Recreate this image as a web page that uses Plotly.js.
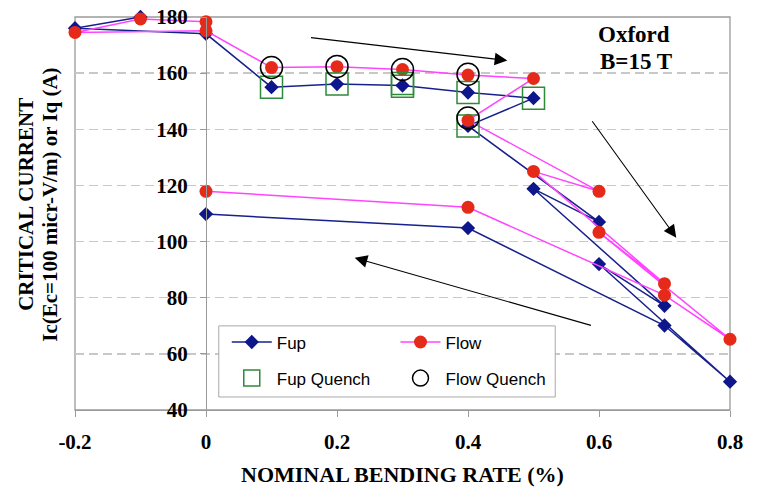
<!DOCTYPE html>
<html><head><meta charset="utf-8">
<script src="https://cdn.plot.ly/plotly-3.0.1.min.js"></script>
<style>html,body{margin:0;padding:0;background:#fff}</style>
</head><body><div id="chart" style="width:761px;height:498px"></div>
<script>
// ---- data ----
const fupX  = [-0.1, -0.2, 0, 0.1, 0.2, 0.3, 0.4, 0.5, 0.4, 0.6, 0.5, 0.7, 0.6, 0.8, 0.7, 0.4, 0];
const fupY  = [180, 176, 174, 155, 156.1, 155.6, 153.1, 151.1, 141.2, 107, 118.8, 77.1, 92, 50.1, 70.1, 104.8, 109.8];
const flowX = [0, -0.1, -0.2, 0, 0.1, 0.2, 0.3, 0.4, 0.5, 0.4, 0.6, 0.5, 0.7, 0.6, 0.8, 0.7, 0.4, 0];
const flowY = [178.3, 179.3, 174.5, 175.1, 162, 162.3, 161.3, 159.3, 158.1, 143.2, 117.9, 125, 85, 103.3, 65.2, 80.9, 112.2, 117.9];
const fupQX  = [0.1, 0.2, 0.3, 0.3, 0.4, 0.5, 0.4];
const fupQY  = [155, 156.1, 156.3, 155.3, 153.1, 151.1, 141.2];
const flowQX = [0.1, 0.2, 0.3, 0.4, 0.4];
const flowQY = [162, 162.4, 161.3, 159.6, 144];
const xTicks = [-0.2, 0, 0.2, 0.4, 0.6, 0.8];
const xTickText = ['-0.2', '0', '0.2', '0.4', '0.6', '0.8'];
const yTicks = [40, 60, 80, 100, 120, 140, 160, 180];
const seriesNames = ['Fup', 'Flow', 'Fup Quench', 'Flow Quench'];

const serif = 'Liberation Serif, Times New Roman, serif';
const sans = 'Liberation Sans, Arial, sans-serif';

const traces = [
  {x: fupX, y: fupY, name: seriesNames[0], mode: 'lines+markers', legend: 'legend', legendgroup: 'a', cliponaxis: false,
   line: {color: '#17208c', width: 1.5}, marker: {symbol: 'diamond', size: 11, color: '#0d168a'}},
  {x: flowX, y: flowY, name: seriesNames[1], mode: 'lines+markers', legend: 'legend2', legendgroup: 'b', cliponaxis: false,
   line: {color: '#ff45ff', width: 1.5}, marker: {symbol: 'circle', size: 13, color: '#e62a1a'}},
  {x: fupQX, y: fupQY, name: seriesNames[2], mode: 'markers', legend: 'legend', legendgroup: 'c', cliponaxis: false,
   marker: {symbol: 'square-open', size: 22, color: '#2e8b3a', line: {width: 1.5}}},
  {x: flowQX, y: flowQY, name: seriesNames[3], mode: 'markers', legend: 'legend2', legendgroup: 'd', cliponaxis: false,
   marker: {symbol: 'circle-open', size: 22, color: '#000000', line: {width: 1.5}}}
];

const tickFont = {family: serif, size: 21, weight: 'bold', color: '#000'};
const legendFont = {family: sans, size: 17, color: '#000'};

const layout = {
  width: 761, height: 498,
  margin: {l: 75, r: 31, t: 17, b: 88},
  paper_bgcolor: '#fff', plot_bgcolor: '#fff',
  showlegend: true,
  xaxis: {
    range: [-0.2, 0.8], tickvals: xTicks, ticktext: xTickText,
    ticks: 'outside', ticklen: 6, tickcolor: '#9a9a9a', tickwidth: 1,
    showgrid: false, zeroline: false, showline: true, linecolor: '#9a9a9a', linewidth: 1.3,
    tickfont: tickFont, ticklabelstandoff: 6, automargin: false,
    title: {text: 'NOMINAL BENDING RATE (%)', font: {family: serif, size: 22, weight: 'bold', color: '#000'}, standoff: 14}
  },
  yaxis: {
    range: [40, 180], tickvals: yTicks, anchor: 'free', position: 0.2,
    ticks: 'outside', ticklen: 6, tickcolor: '#9a9a9a',
    showline: true, linecolor: '#9a9a9a', linewidth: 1.3,
    showgrid: true, gridcolor: '#c8c8c8', gridwidth: 1.3, griddash: '9px,5px',
    zeroline: false, tickfont: tickFont, ticklabelstandoff: 8, automargin: false
  },
  legend: {x: 0.2317, xanchor: 'left', y: 0.2177, yanchor: 'top', bgcolor: 'rgba(0,0,0,0)',
           borderwidth: 0, font: legendFont, itemwidth: 40, tracegroupgap: 11, orientation: 'v'},
  legend2: {x: 0.4893, xanchor: 'left', y: 0.2177, yanchor: 'top', bgcolor: 'rgba(0,0,0,0)',
           borderwidth: 0, font: legendFont, itemwidth: 40, tracegroupgap: 11, orientation: 'v'},
  shapes: [
    {type: 'rect', xref: 'paper', yref: 'paper', x0: 0, x1: 1, y0: 0, y1: 1,
     line: {color: '#9a9a9a', width: 1.3}, layer: 'below'},
    {type: 'rect', xref: 'paper', yref: 'paper', x0: 0.2195, x1: 0.7332, y0: 0.0331, y1: 0.214,
     line: {color: '#a8a8a8', width: 1}, fillcolor: '#ffffff', layer: 'above'}
  ],
  annotations: [
    {text: 'CRITICAL CURRENT', textangle: -90, xref: 'paper', yref: 'paper', x: -0.0747, y: 0.5223,
     xanchor: 'center', yanchor: 'middle', showarrow: false, font: {family: serif, size: 21, weight: 'bold', color: '#000'}},
    {text: 'Ic(Ec=100 micr-V/m) or Iq (A)', textangle: -90, xref: 'paper', yref: 'paper', x: -0.0381, y: 0.5223,
     xanchor: 'center', yanchor: 'middle', showarrow: false, font: {family: serif, size: 21, weight: 'bold', color: '#000'}},
    {text: 'Oxford', xref: 'paper', yref: 'paper', x: 0.8537, y: 0.9554, xanchor: 'center', yanchor: 'middle',
     showarrow: false, font: {family: serif, size: 23, weight: 'bold', color: '#000'}},
    {text: 'B=15 T', xref: 'paper', yref: 'paper', x: 0.8567, y: 0.8866, xanchor: 'center', yanchor: 'middle',
     showarrow: false, font: {family: serif, size: 23, weight: 'bold', color: '#000'}},
    {text: '', x: 0.460, y: 164.5, ax: 0.158, ay: 172.7, axref: 'x', ayref: 'y', xref: 'x', yref: 'y',
     showarrow: true, arrowhead: 2, arrowsize: 2.3, arrowwidth: 1.1, arrowcolor: '#000'},
    {text: '', x: 0.718, y: 101.4, ax: 0.588, ay: 143.4, axref: 'x', ayref: 'y', xref: 'x', yref: 'y',
     showarrow: true, arrowhead: 2, arrowsize: 2.3, arrowwidth: 1.1, arrowcolor: '#000'},
    {text: '', x: 0.227, y: 94.2, ax: 0.590, ay: 70.0, axref: 'x', ayref: 'y', xref: 'x', yref: 'y',
     showarrow: true, arrowhead: 2, arrowsize: 2.3, arrowwidth: 1.1, arrowcolor: '#000'}
  ]
};

Plotly.newPlot('chart', traces, layout, {displayModeBar: false, staticPlot: true});
</script>
</body></html>
